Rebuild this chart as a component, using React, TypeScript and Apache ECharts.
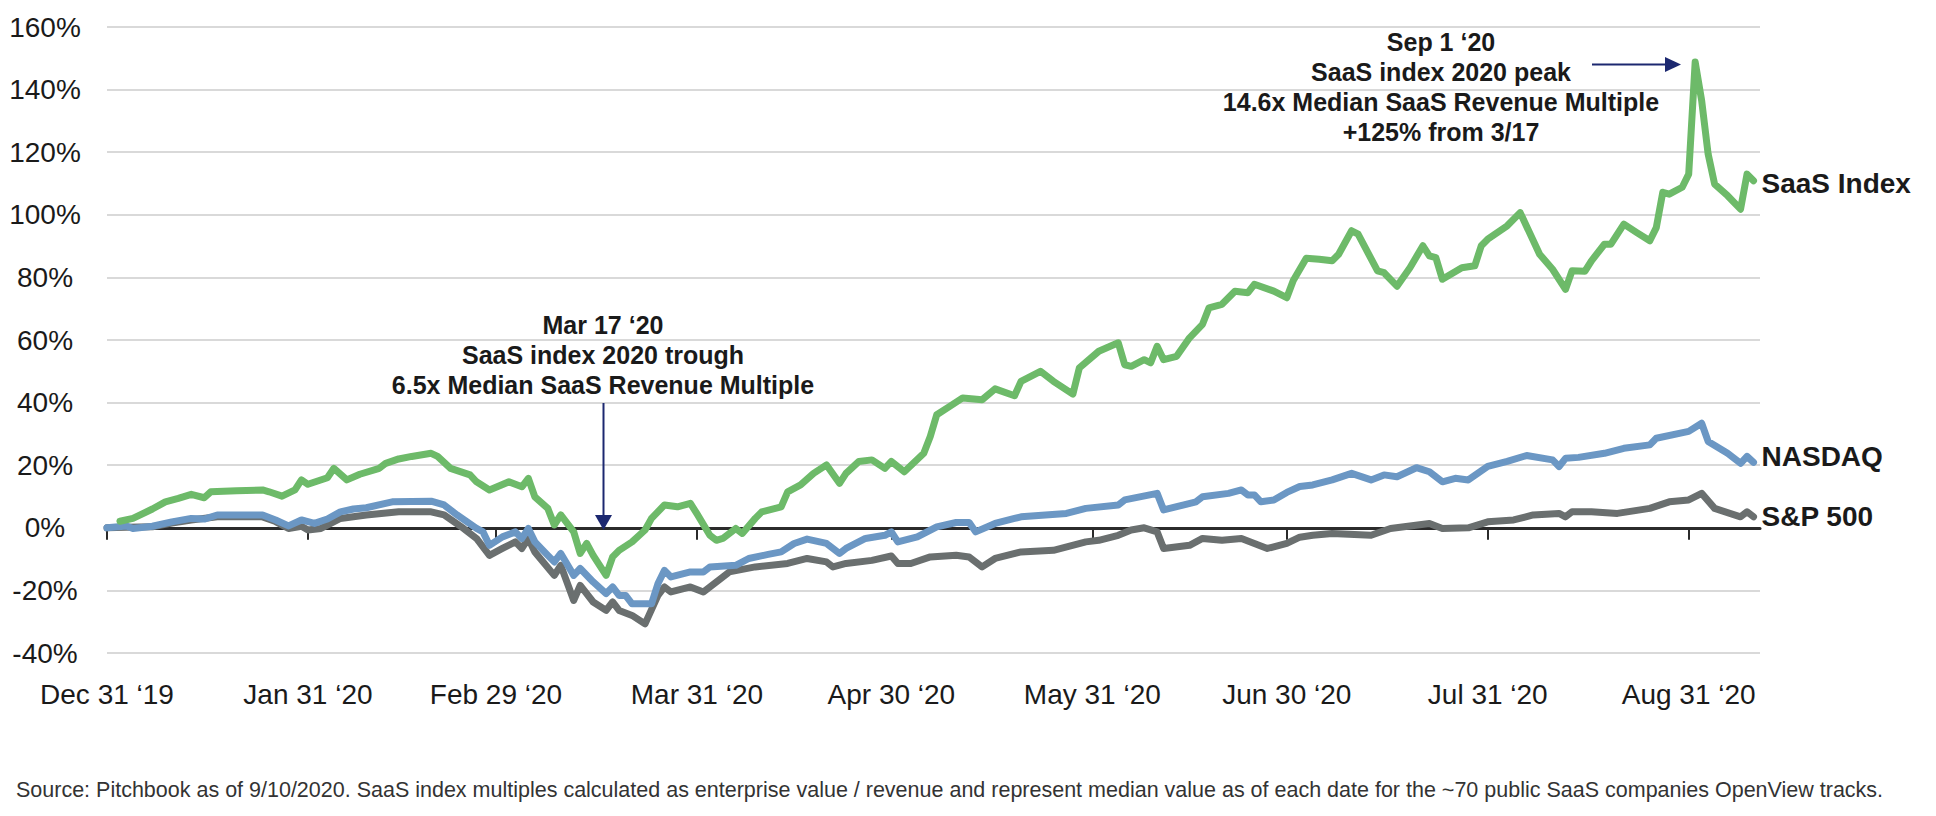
import React, { useEffect, useRef } from "react";
import * as echarts from "echarts";

// ---------- data ----------
const tickDates = [
  "2019-12-31", "2020-01-31", "2020-02-29", "2020-03-31", "2020-04-30",
  "2020-05-31", "2020-06-30", "2020-07-31", "2020-08-31",
];
const tickLabels = [
  "Dec 31 \u201819", "Jan 31 \u201820", "Feb 29 \u201820", "Mar 31 \u201820", "Apr 30 \u201820",
  "May 31 \u201820", "Jun 30 \u201820", "Jul 31 \u201820", "Aug 31 \u201820",
];
const axisStart = "2019-12-31";
const axisEnd = "2020-09-11";
const yMin = -40;
const yMax = 160;
const yStep = 20;

const saasIndex: [string, number][] = [
  ["2020-01-02", 2.1], ["2020-01-04", 3.0], ["2020-01-07", 6.0], ["2020-01-09", 8.3],
  ["2020-01-11", 9.4], ["2020-01-13", 10.7], ["2020-01-15", 9.6], ["2020-01-16", 11.5],
  ["2020-01-20", 11.8], ["2020-01-24", 12.1], ["2020-01-25", 11.5], ["2020-01-27", 10.1],
  ["2020-01-29", 12.1], ["2020-01-30", 15.3], ["2020-01-31", 13.9], ["2020-02-03", 16.0],
  ["2020-02-04", 19.0], ["2020-02-06", 15.3], ["2020-02-08", 17.1], ["2020-02-11", 19.0],
  ["2020-02-12", 20.6], ["2020-02-14", 22.0], ["2020-02-16", 22.8], ["2020-02-19", 23.8],
  ["2020-02-20", 22.8], ["2020-02-22", 19.0], ["2020-02-25", 16.9], ["2020-02-26", 14.7],
  ["2020-02-28", 12.1], ["2020-03-02", 14.7], ["2020-03-04", 13.1], ["2020-03-05", 15.8],
  ["2020-03-06", 9.9], ["2020-03-08", 6.2], ["2020-03-09", 0.9], ["2020-03-10", 4.1],
  ["2020-03-12", -1.3], ["2020-03-13", -8.2], ["2020-03-14", -5.0], ["2020-03-15", -8.8],
  ["2020-03-17", -15.2], ["2020-03-18", -9.3], ["2020-03-19", -7.2], ["2020-03-21", -4.5],
  ["2020-03-23", -0.7], ["2020-03-24", 3.0], ["2020-03-26", 7.3], ["2020-03-28", 6.7],
  ["2020-03-30", 7.8], ["2020-03-31", 4.5], ["2020-04-02", -2.4], ["2020-04-03", -4.0],
  ["2020-04-04", -3.4], ["2020-04-06", -0.2], ["2020-04-07", -1.8], ["2020-04-09", 3.0],
  ["2020-04-10", 5.1], ["2020-04-13", 6.7], ["2020-04-14", 11.5], ["2020-04-16", 13.7],
  ["2020-04-18", 17.4], ["2020-04-20", 20.1], ["2020-04-22", 14.2], ["2020-04-23", 17.4],
  ["2020-04-25", 21.2], ["2020-04-27", 21.7], ["2020-04-29", 19.0], ["2020-04-30", 21.2],
  ["2020-05-02", 17.9], ["2020-05-05", 23.8], ["2020-05-06", 29.2], ["2020-05-07", 36.1],
  ["2020-05-09", 38.8], ["2020-05-11", 41.5], ["2020-05-14", 40.9], ["2020-05-16", 44.4],
  ["2020-05-19", 42.2], ["2020-05-20", 46.8], ["2020-05-23", 50.0], ["2020-05-25", 46.8],
  ["2020-05-28", 42.7], ["2020-05-29", 51.1], ["2020-06-01", 56.4], ["2020-06-04", 59.1],
  ["2020-06-05", 52.1], ["2020-06-06", 51.6], ["2020-06-08", 53.7], ["2020-06-09", 52.7],
  ["2020-06-10", 58.0], ["2020-06-11", 53.7], ["2020-06-13", 54.8], ["2020-06-15", 60.7],
  ["2020-06-17", 65.0], ["2020-06-18", 70.3], ["2020-06-20", 71.4], ["2020-06-22", 75.6],
  ["2020-06-24", 75.1], ["2020-06-25", 77.8], ["2020-06-28", 75.6], ["2020-06-30", 73.5],
  ["2020-07-01", 79.0], ["2020-07-03", 86.1], ["2020-07-05", 85.8], ["2020-07-07", 85.3],
  ["2020-07-08", 87.4], ["2020-07-10", 94.9], ["2020-07-11", 93.8], ["2020-07-14", 82.1],
  ["2020-07-15", 81.5], ["2020-07-17", 77.2], ["2020-07-19", 83.1], ["2020-07-21", 90.1],
  ["2020-07-22", 86.9], ["2020-07-23", 86.3], ["2020-07-24", 79.4], ["2020-07-27", 83.1],
  ["2020-07-29", 83.7], ["2020-07-30", 90.1], ["2020-07-31", 92.2], ["2020-08-03", 96.5],
  ["2020-08-05", 100.7], ["2020-08-08", 87.4], ["2020-08-10", 82.6], ["2020-08-12", 76.2],
  ["2020-08-13", 82.1], ["2020-08-15", 82.0], ["2020-08-16", 85.3], ["2020-08-18", 90.6],
  ["2020-08-19", 90.6], ["2020-08-21", 97.0], ["2020-08-23", 94.3], ["2020-08-25", 91.7],
  ["2020-08-26", 95.9], ["2020-08-27", 107.2], ["2020-08-28", 106.6], ["2020-08-30", 108.8],
  ["2020-08-31", 113.0], ["2020-09-01", 148.8], ["2020-09-02", 136.5], ["2020-09-03", 119.4],
  ["2020-09-04", 109.8], ["2020-09-06", 106.1], ["2020-09-08", 101.8], ["2020-09-09", 113.0],
  ["2020-09-10", 110.9],
];

const nasdaq: [string, number][] = [
  ["2019-12-31", 0], ["2020-01-03", 0.6], ["2020-01-04", -0.2], ["2020-01-07", 0.5],
  ["2020-01-10", 1.9], ["2020-01-13", 3.0], ["2020-01-15", 2.8], ["2020-01-17", 4.1],
  ["2020-01-24", 4.1], ["2020-01-26", 2.5], ["2020-01-28", 0.6], ["2020-01-30", 2.5],
  ["2020-02-01", 1.4], ["2020-02-03", 2.8], ["2020-02-05", 5.1], ["2020-02-07", 6.0],
  ["2020-02-09", 6.4], ["2020-02-13", 8.3], ["2020-02-19", 8.5], ["2020-02-21", 7.3],
  ["2020-02-23", 4.1], ["2020-02-26", -0.2], ["2020-02-27", -1.3], ["2020-02-28", -5.6],
  ["2020-03-01", -2.9], ["2020-03-03", -1.3], ["2020-03-04", -3.4], ["2020-03-05", -0.2],
  ["2020-03-06", -4.5], ["2020-03-08", -8.8], ["2020-03-09", -10.9], ["2020-03-10", -8.2],
  ["2020-03-12", -15.2], ["2020-03-13", -13.0], ["2020-03-15", -17.3], ["2020-03-17", -21.0],
  ["2020-03-18", -18.9], ["2020-03-19", -21.6], ["2020-03-20", -21.6], ["2020-03-21", -24.3],
  ["2020-03-24", -24.3], ["2020-03-25", -17.8], ["2020-03-26", -13.6], ["2020-03-27", -15.7],
  ["2020-03-30", -14.1], ["2020-04-01", -14.1], ["2020-04-02", -12.5], ["2020-04-06", -12.0],
  ["2020-04-08", -9.8], ["2020-04-11", -8.5], ["2020-04-13", -7.7], ["2020-04-15", -5.0],
  ["2020-04-17", -3.6], ["2020-04-20", -5.0], ["2020-04-22", -8.2], ["2020-04-23", -6.6],
  ["2020-04-26", -3.4], ["2020-04-29", -2.4], ["2020-04-30", -1.3], ["2020-05-01", -4.5],
  ["2020-05-04", -2.9], ["2020-05-07", 0.3], ["2020-05-10", 1.7], ["2020-05-12", 1.7],
  ["2020-05-13", -1.3], ["2020-05-16", 1.4], ["2020-05-19", 3.0], ["2020-05-20", 3.5],
  ["2020-05-27", 4.6], ["2020-05-30", 6.2], ["2020-06-04", 7.3], ["2020-06-05", 8.9],
  ["2020-06-10", 11.0], ["2020-06-11", 5.7], ["2020-06-16", 8.3], ["2020-06-17", 9.9],
  ["2020-06-21", 11.0], ["2020-06-23", 12.1], ["2020-06-24", 10.5], ["2020-06-25", 10.5],
  ["2020-06-26", 8.3], ["2020-06-28", 8.9], ["2020-06-30", 11.3], ["2020-07-02", 13.2],
  ["2020-07-04", 13.7], ["2020-07-07", 15.3], ["2020-07-10", 17.4], ["2020-07-13", 15.3],
  ["2020-07-15", 16.9], ["2020-07-17", 16.3], ["2020-07-20", 19.2], ["2020-07-22", 17.9],
  ["2020-07-24", 14.7], ["2020-07-26", 15.8], ["2020-07-28", 15.3], ["2020-07-31", 19.6],
  ["2020-08-03", 21.2], ["2020-08-06", 23.1], ["2020-08-10", 21.7], ["2020-08-11", 19.6],
  ["2020-08-12", 22.2], ["2020-08-14", 22.5], ["2020-08-18", 23.8], ["2020-08-21", 25.4],
  ["2020-08-25", 26.5], ["2020-08-26", 28.6], ["2020-08-31", 30.8], ["2020-09-02", 33.4],
  ["2020-09-03", 27.6], ["2020-09-06", 23.8], ["2020-09-08", 20.6], ["2020-09-09", 22.8],
  ["2020-09-10", 20.9],
];

const sp500: [string, number][] = [
  ["2019-12-31", 0], ["2020-01-03", 0.2], ["2020-01-07", 0.3], ["2020-01-10", 1.5],
  ["2020-01-13", 2.5], ["2020-01-17", 3.5], ["2020-01-24", 3.5], ["2020-01-26", 2.0],
  ["2020-01-28", -0.2], ["2020-01-30", 0.5], ["2020-01-31", -0.7], ["2020-02-02", -0.2],
  ["2020-02-05", 3.0], ["2020-02-09", 4.1], ["2020-02-14", 5.1], ["2020-02-19", 5.1],
  ["2020-02-21", 4.1], ["2020-02-24", -0.2], ["2020-02-26", -3.4], ["2020-02-28", -8.8],
  ["2020-03-01", -6.6], ["2020-03-03", -4.5], ["2020-03-04", -6.6], ["2020-03-05", -3.4],
  ["2020-03-06", -7.7], ["2020-03-09", -15.2], ["2020-03-10", -12.0], ["2020-03-12", -23.2],
  ["2020-03-13", -18.4], ["2020-03-15", -23.7], ["2020-03-17", -26.4], ["2020-03-18", -23.7],
  ["2020-03-19", -26.4], ["2020-03-21", -28.0], ["2020-03-23", -30.7], ["2020-03-25", -21.6],
  ["2020-03-26", -18.9], ["2020-03-27", -20.5], ["2020-03-30", -18.9], ["2020-04-01", -20.5],
  ["2020-04-05", -14.1], ["2020-04-09", -12.5], ["2020-04-14", -11.4], ["2020-04-17", -9.8],
  ["2020-04-20", -10.9], ["2020-04-21", -12.5], ["2020-04-23", -11.4], ["2020-04-27", -10.4],
  ["2020-04-30", -9.0], ["2020-05-01", -11.4], ["2020-05-03", -11.4], ["2020-05-06", -9.3],
  ["2020-05-10", -8.8], ["2020-05-12", -9.3], ["2020-05-14", -12.5], ["2020-05-16", -9.8],
  ["2020-05-20", -7.7], ["2020-05-25", -7.2], ["2020-05-30", -4.5], ["2020-06-01", -4.0],
  ["2020-06-04", -2.4], ["2020-06-06", -0.7], ["2020-06-08", 0.0], ["2020-06-10", -1.3],
  ["2020-06-11", -6.6], ["2020-06-15", -5.6], ["2020-06-17", -3.4], ["2020-06-20", -4.0],
  ["2020-06-23", -3.4], ["2020-06-25", -5.0], ["2020-06-27", -6.6], ["2020-06-30", -5.0],
  ["2020-07-02", -3.0], ["2020-07-04", -2.4], ["2020-07-07", -1.8], ["2020-07-13", -2.4],
  ["2020-07-16", -0.2], ["2020-07-22", 1.4], ["2020-07-24", -0.2], ["2020-07-28", 0.0],
  ["2020-07-31", 1.9], ["2020-08-04", 2.5], ["2020-08-07", 4.1], ["2020-08-11", 4.6],
  ["2020-08-12", 3.5], ["2020-08-13", 5.1], ["2020-08-16", 5.1], ["2020-08-20", 4.6],
  ["2020-08-25", 6.2], ["2020-08-28", 8.3], ["2020-08-31", 8.9], ["2020-09-02", 11.0],
  ["2020-09-04", 6.2], ["2020-09-08", 3.5], ["2020-09-09", 5.1], ["2020-09-10", 3.5],
];

const troughNote = ["Mar 17 \u201820", "SaaS index 2020 trough", "6.5x Median SaaS Revenue Multiple"];
const peakNote = ["Sep 1 \u201820", "SaaS index 2020 peak", "14.6x Median SaaS Revenue Multiple", "+125% from 3/17"];
const sourceNote =
  "Source: Pitchbook as of 9/10/2020. SaaS index multiples calculated as enterprise value / revenue and represent median value as of each date for the ~70 public SaaS companies OpenView tracks.";

// ---------- helpers / styles ----------
const ts = (s: string) => Date.parse(s + "T00:00:00Z");
const toSeries = (arr: [string, number][]) => arr.map(([d, v]) => [ts(d), v]);

const FONT = "'Liberation Sans', Arial, sans-serif";
const GREEN = "#6dba69";
const BLUE = "#6b97c4";
const GREY = "#6a6f6f";
const NAVY = "#1c2870";
const TEXT = "#1a1a1a";

export default function App() {
  const ref = useRef<HTMLDivElement>(null);

  useEffect(() => {
    if (!ref.current) return;
    const chart = echarts.init(ref.current, undefined, { renderer: "svg" });
    const tickValues = tickDates.map(ts);
    const labelFor = (v: number) => {
      const i = tickValues.indexOf(v);
      return i >= 0 ? tickLabels[i] : "";
    };

    const lineSeries = (name: string, data: [string, number][], color: string, labelOffset: number[]) => ({
      name,
      type: "line",
      data: toSeries(data),
      xAxisIndex: 0,
      yAxisIndex: 0,
      showSymbol: false,
      symbol: "none",
      lineStyle: { color, width: 7, cap: "round", join: "round" },
      itemStyle: { color },
      emphasis: { disabled: true },
      endLabel: {
        show: true,
        formatter: "{a}",
        fontFamily: FONT,
        fontSize: 28,
        fontWeight: "bold",
        color: TEXT,
        distance: 8,
        offset: labelOffset,
      },
    });

    const noteTexts = (lines: string[], cx: number, y0: number) =>
      lines.map((t, i) => ({
        type: "text",
        x: cx,
        y: y0 + i * 30,
        z: 50,
        style: {
          text: t,
          fill: TEXT,
          fontFamily: FONT,
          fontSize: 25,
          fontWeight: "bold",
          align: "center",
          verticalAlign: "middle",
        },
      }));

    chart.setOption({
      animation: false,
      backgroundColor: "#ffffff",
      grid: { left: 107, right: 176, top: 27, bottom: 163, containLabel: false, outerBoundsMode: "none" },
      xAxis: [
        {
          type: "value",
          min: ts(axisStart),
          max: ts(axisEnd),
          position: "bottom",
          axisLine: { show: true, onZero: true, lineStyle: { color: "#2b2b2b", width: 3 } },
          axisTick: {
            show: true,
            customValues: tickValues,
            length: 12,
            lineStyle: { color: "#2b2b2b", width: 2 },
          },
          axisLabel: { show: false },
          splitLine: { show: false },
        },
        {
          type: "value",
          min: ts(axisStart),
          max: ts(axisEnd),
          position: "bottom",
          axisLine: { show: false, onZero: false },
          axisTick: { show: false },
          splitLine: { show: false },
          axisLabel: {
            show: true,
            customValues: tickValues,
            formatter: (v: number) => labelFor(v),
            fontFamily: FONT,
            fontSize: 28,
            color: TEXT,
            margin: 27,
          },
        },
      ],
      yAxis: {
        type: "value",
        min: yMin,
        max: yMax,
        interval: yStep,
        axisLine: { show: false },
        axisTick: { show: false },
        splitLine: { show: true, lineStyle: { color: "#d9d9d9", width: 2 } },
        axisLabel: {
          formatter: "{value}%",
          fontFamily: FONT,
          fontSize: 28,
          color: TEXT,
          align: "center",
          margin: 62,
        },
      },
      series: [
        lineSeries("S&P 500", sp500, GREY, [0, 0]),
        lineSeries("NASDAQ", nasdaq, BLUE, [0, -6]),
        lineSeries("SaaS Index", saasIndex, GREEN, [0, 3]),
      ],
      graphic: [
        ...noteTexts(troughNote, 603, 325),
        ...noteTexts(peakNote, 1441, 42),
        {
          type: "line",
          z: 50,
          shape: { x1: 603.5, y1: 403, x2: 603.5, y2: 516 },
          style: { stroke: NAVY, lineWidth: 2 },
        },
        {
          type: "polygon",
          z: 50,
          shape: { points: [[595, 515], [612, 515], [603.5, 530]] },
          style: { fill: NAVY },
        },
        {
          type: "line",
          z: 50,
          shape: { x1: 1592, y1: 64.5, x2: 1667, y2: 64.5 },
          style: { stroke: NAVY, lineWidth: 2 },
        },
        {
          type: "polygon",
          z: 50,
          shape: { points: [[1665, 57], [1665, 72], [1681, 64.5]] },
          style: { fill: NAVY },
        },
        {
          type: "text",
          x: 16,
          y: 790,
          style: {
            text: sourceNote,
            fill: "#333333",
            fontFamily: FONT,
            fontSize: 21.5,
            align: "left",
            verticalAlign: "middle",
          },
        },
      ],
    });

    return () => chart.dispose();
  }, []);

  return (
    <div
      ref={ref}
      style={{ position: "absolute", left: 0, top: 0, width: 1936, height: 816, background: "#fff" }}
    />
  );
}
